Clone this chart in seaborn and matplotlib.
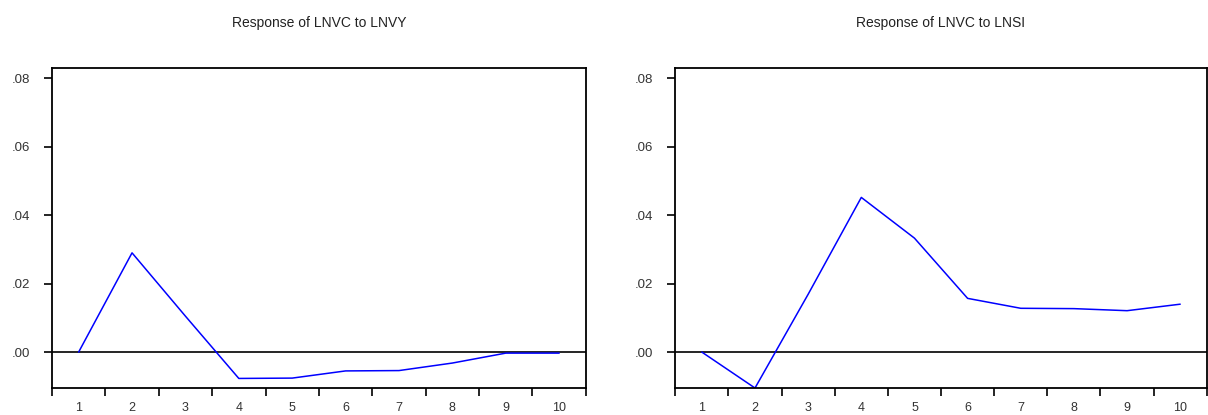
# impulse response charts, two panels
import numpy as np
import pandas as pd
import seaborn as sns
import matplotlib.pyplot as plt
from matplotlib.ticker import FixedLocator, FuncFormatter

periods = [1, 2, 3, 4, 5, 6, 7, 8, 9, 10]
resp_lnvy = [0.0, 0.029, 0.0105, -0.0077, -0.0076, -0.0055, -0.0054, -0.0032, -0.0003, -0.0003]
resp_lnsi = [0.0, -0.0105, 0.0169, 0.0452, 0.0333, 0.0157, 0.0128, 0.0127, 0.0121, 0.014]
titles = ["Response of LNVC to LNVY", "Response of LNVC to LNSI"]

sns.set_style("white")
plt.rcParams['font.family'] = ['Arial', 'Liberation Sans', 'DejaVu Sans']

fig = plt.figure(figsize=(12.08, 4.15), dpi=100)
ax1 = fig.add_axes([0.043, 0.065, 0.442, 0.771])
ax2 = fig.add_axes([0.559, 0.065, 0.44, 0.771])

for ax, vals, title in zip([ax1, ax2], [resp_lnvy, resp_lnsi], titles):
    df = pd.DataFrame({"period": periods, "response": vals})
    sns.lineplot(data=df, x="period", y="response", ax=ax, color="#0000ff", linewidth=1.1)
    ax.axhline(0, color="black", linewidth=1.2, zorder=1)
    ax.set_xlim(0.5, 10.5)
    ax.set_ylim(-0.0105, 0.083)
    ax.set_xlabel("")
    ax.set_ylabel("")
    ax.set_title(title, fontsize=10, y=1.128, pad=0, color="#222222")
    # tick marks between periods, labels at periods
    ax.xaxis.set_major_locator(FixedLocator(np.arange(0.5, 11, 1)))
    ax.xaxis.set_major_formatter(FuncFormatter(lambda v, p: ""))
    ax.xaxis.set_minor_locator(FixedLocator(periods))
    ax.xaxis.set_minor_formatter(FuncFormatter(lambda v, p: f"{int(v)}"))
    ax.tick_params(axis="x", which="major", direction="out", length=6, width=1.2, color="black", bottom=True)
    ax.tick_params(axis="x", which="minor", length=0, labelsize=9, pad=10, labelcolor="#333333", bottom=True)
    ax.set_yticks([0.0, 0.02, 0.04, 0.06, 0.08])
    ax.yaxis.set_major_formatter(FuncFormatter(lambda v, p: f"{v:.2f}".replace("0.", ".")))
    ax.tick_params(axis="y", direction="out", length=6, width=1.2, color="black", left=True, labelsize=9.5, labelcolor="#333333", pad=10)
    for s in ax.spines.values():
        s.set_visible(True)
        s.set_color("black")
        s.set_linewidth(1.3)

fig.savefig("out.png", dpi=100)
